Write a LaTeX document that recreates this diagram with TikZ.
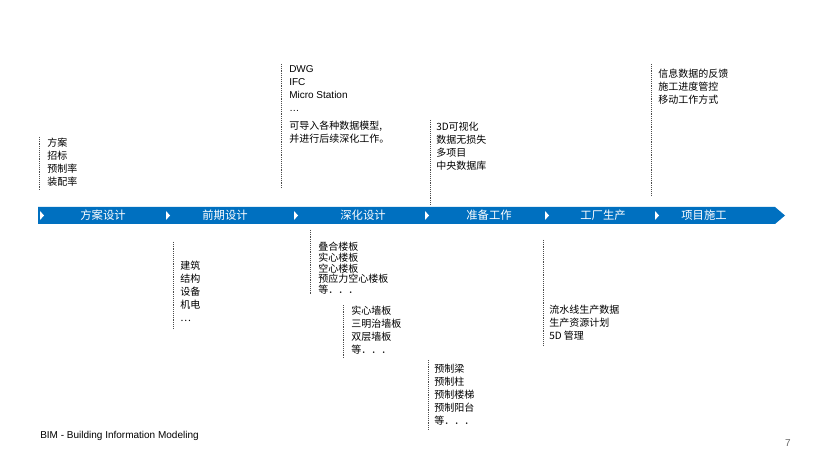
\documentclass[tikz,border=0pt]{standalone}
\usepackage{fontspec}
\setmainfont{Liberation Sans}
\newfontfamily\cjk{Noto Sans CJK SC}
\usetikzlibrary{positioning}
\definecolor{bandblue}{RGB}{0,112,192}
\begin{document}
\begin{tikzpicture}[
    x=0.75pt, y=-0.75pt,
    note/.style={anchor=north west, align=left, inner sep=0pt, font=\cjk\fontsize{7.5}{9.8}\selectfont},
    tight/.style={anchor=north west, align=left, inner sep=0pt, font=\cjk\fontsize{7.5}{8}\selectfont},
    stage/.style={text=white, font=\cjk\fontsize{8.5}{10}\selectfont},
    guide/.style={densely dotted, thin, black!70}
]
\useasboundingbox (0,0) rectangle (818,449);

% Timeline band
\fill[bandblue] (38,207) -- (775,207) -- (785,215.5) -- (775,224) -- (38,224) -- cycle;
\foreach \t in {40,166,294,425,545,655}
  \fill[white] (\t,211) -- (\t+4,215.5) -- (\t,220) -- cycle;
\node[stage] (s1) at (103,215.5) {方案设计};
\node[stage] (s2) at (225,215.5) {前期设计};
\node[stage] (s3) at (363,215.5) {深化设计};
\node[stage] (s4) at (489,215.5) {准备工作};
\node[stage] (s5) at (603,215.5) {工厂生产};
\node[stage] (s6) at (704,215.5) {项目施工};

% Upper notes
\node[note] (plan) at (47,138) {方案\\招标\\预制率\\装配率};
\node[note] (fmt) at (289,65) {\rmfamily DWG\\\rmfamily IFC\\\rmfamily Micro Station\\\rmfamily …\\[4pt]可导入各种数据模型,\\并进行后续深化工作。};
\node[note] (viz) at (436,122) {3D可视化\\数据无损失\\多项目\\中央数据库};
\node[note] (feed) at (658,69) {信息数据的反馈\\施工进度管控\\移动工作方式};

% Lower notes
\node[note] (disc) at (180,261) {建筑\\结构\\设备\\机电\\…};
\node[tight] (slab) at (318,242) {叠合楼板\\实心楼板\\空心楼板\\预应力空心楼板\\等．．．};
\node[note] (wall) at (351,306) {实心墙板\\三明治墙板\\双层墙板\\等．．．};
\node[note] (beam) at (434,364) {预制梁\\预制柱\\预制楼梯\\预制阳台\\等．．．};
\node[note] (prod) at (549,305) {流水线生产数据\\生产资源计划\\5D 管理};

% Guides
\coordinate (g1a) at (39,137);  \coordinate (g1b) at (39,190);
\coordinate (g2a) at (281,64);  \coordinate (g2b) at (281,188);
\coordinate (g3a) at (430,120); \coordinate (g3b) at (430,205);
\coordinate (g4a) at (651,64);  \coordinate (g4b) at (651,195);
\coordinate (g5a) at (173,242); \coordinate (g5b) at (173,328);
\coordinate (g6a) at (310,230); \coordinate (g6b) at (310,295);
\coordinate (g7a) at (343,305); \coordinate (g7b) at (343,358);
\coordinate (g8a) at (428,360); \coordinate (g8b) at (428,430);
\coordinate (g9a) at (543,240); \coordinate (g9b) at (543,345);
\foreach \g in {1,...,9}
  \draw[guide] (g\g a) -- (g\g b);

% Footer
\node[anchor=west, inner sep=0pt, font=\fontsize{7.5}{9}\selectfont] (bim) at (40,436) {BIM - Building Information Modeling};
\node[inner sep=0pt, text=black!60, font=\fontsize{7.5}{9}\selectfont] (page) at (788,443) {7};
\end{tikzpicture}
\end{document}
